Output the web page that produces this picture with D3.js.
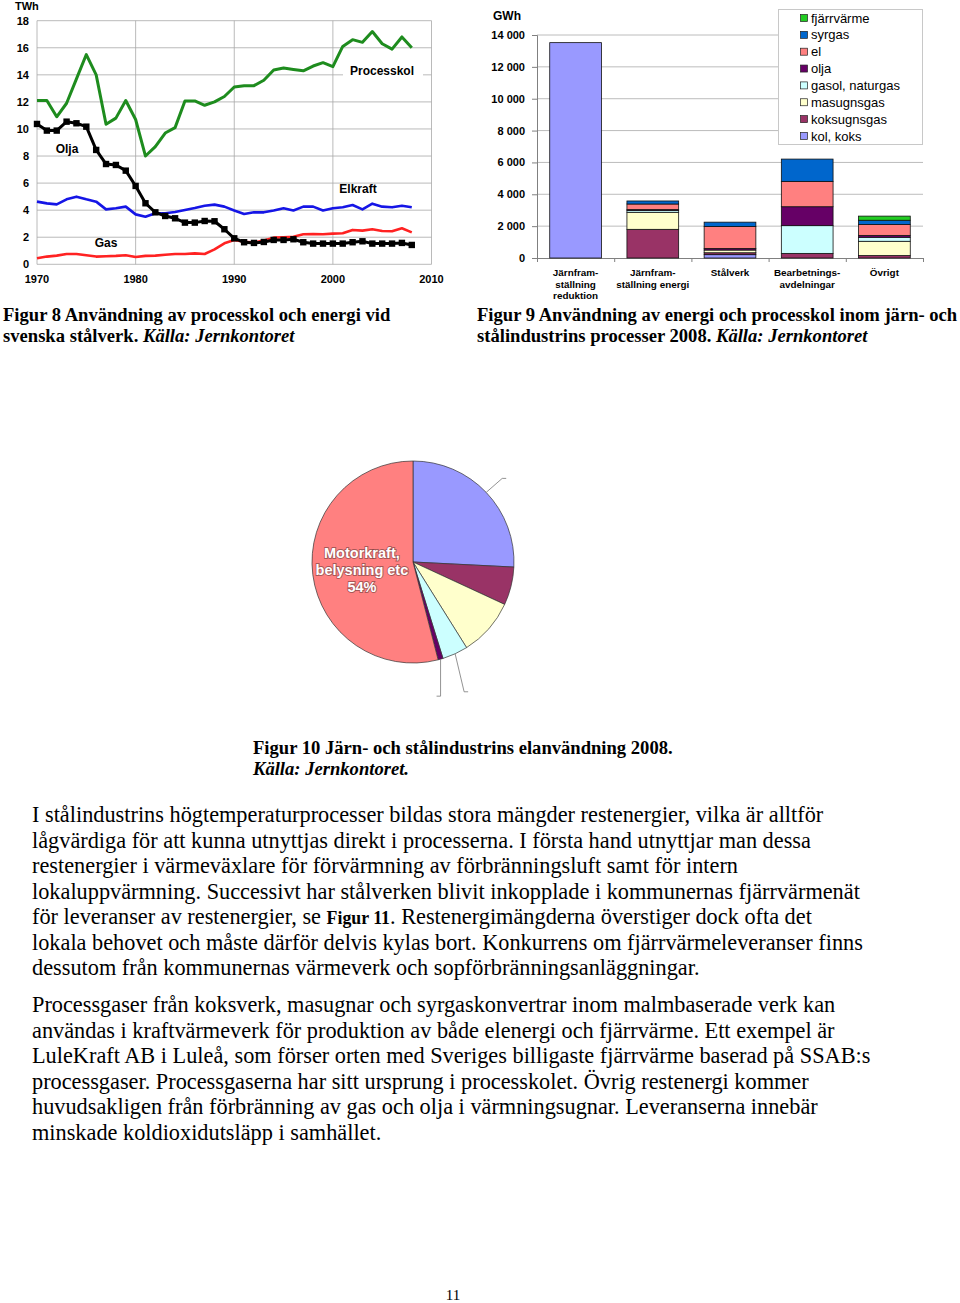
<!DOCTYPE html>
<html>
<head>
<meta charset="utf-8">
<script src="https://cdn.jsdelivr.net/npm/d3@7"></script>
<style>
  body { margin: 0; background: #fff; }
  svg { display: block; }
</style>
</head>
<body>
<svg id="page" width="960" height="1303"></svg>
<script>
// figur 8: linjer 1970-2008 (TWh)
const years = [1970, 1971, 1972, 1973, 1974, 1975, 1976, 1977, 1978, 1979,
  1980, 1981, 1982, 1983, 1984, 1985, 1986, 1987, 1988, 1989,
  1990, 1991, 1992, 1993, 1994, 1995, 1996, 1997, 1998, 1999,
  2000, 2001, 2002, 2003, 2004, 2005, 2006, 2007, 2008];
const processkol = [12.1, 12.1, 10.9, 11.9, 13.7, 15.5, 14.0, 10.35, 10.8, 12.1,
  10.7, 8.0, 8.7, 9.7, 10.1, 12.07, 12.07, 11.75, 12.0, 12.4,
  13.1, 13.2, 13.2, 13.6, 14.36, 14.5, 14.4, 14.3, 14.65, 14.9,
  14.6, 16.1, 16.6, 16.4, 17.2, 16.3, 15.9, 16.8, 16.0];
const olja = [10.37, 9.88, 9.88, 10.54, 10.42, 10.17, 8.45, 7.41, 7.34, 6.92,
  5.79, 4.51, 3.84, 3.57, 3.40, 3.08, 3.08, 3.2, 3.18, 2.59,
  1.92, 1.63, 1.58, 1.65, 1.8, 1.8, 1.85, 1.63, 1.53, 1.53,
  1.53, 1.53, 1.63, 1.7, 1.53, 1.53, 1.53, 1.58, 1.43];
const elkraft = [4.63, 4.5, 4.43, 4.8, 5.0, 4.8, 4.63, 4.06, 4.14, 4.26,
  3.69, 3.52, 3.77, 3.77, 3.87, 4.01, 4.16, 4.33, 4.41, 4.26,
  3.97, 3.72, 3.84, 3.84, 3.97, 4.14, 3.97, 4.26, 4.26, 3.97,
  4.14, 4.21, 4.38, 4.06, 4.48, 4.26, 4.21, 4.33, 4.21];
const gas = [0.44, 0.57, 0.64, 0.76, 0.76, 0.67, 0.57, 0.59, 0.62, 0.67,
  0.54, 0.62, 0.64, 0.71, 0.76, 0.76, 0.81, 0.76, 1.1, 1.55,
  1.8, 1.67, 1.6, 1.75, 1.97, 2.0, 2.04, 2.22, 2.24, 2.22,
  2.27, 2.29, 2.54, 2.49, 2.59, 2.46, 2.44, 2.66, 2.36];
const twhTicks = [0, 2, 4, 6, 8, 10, 12, 14, 16, 18];
const yearTicks = [1970, 1980, 1990, 2000, 2010];

// figur 9: staplar per process (GWh), ordnade nerifran och upp
const processes = [
  ["Järnfram-", "ställning", "reduktion"],
  ["Järnfram-", "ställning energi"],
  ["Stålverk"],
  ["Bearbetnings-", "avdelningar"],
  ["Övrigt"]
];
const carriers = ["kol, koks", "koksugnsgas", "masugnsgas", "gasol, naturgas", "olja", "el", "syrgas", "fjärrvärme"];
const kolKoks      = [13520, 0, 210, 0, 0];
const koksugnsgas  = [0, 1800, 120, 290, 150];
const masugnsgas   = [0, 1070, 170, 0, 900];
const gasolNaturgas = [0, 120, 0, 1740, 250];
const oljaGwh      = [0, 50, 100, 1190, 120];
const el           = [0, 350, 1380, 1590, 680];
const syrgas       = [0, 190, 270, 1400, 270];
const fjarrvarme   = [0, 0, 0, 0, 260];
const gwhTicks = [0, 2000, 4000, 6000, 8000, 10000, 12000, 14000];

// figur 10: elanvandning 2008 (%)
const elShares = [25.8, 6.1, 9.2, 4.1, 0.8, 54.0];

const carrierColors = ["#9999ff", "#993366", "#ffffcc", "#ccffff", "#660066", "#ff8080", "#0066cc", "#22cc22"];
const pieColors = ["#9999ff", "#993366", "#ffffcc", "#ccffff", "#660066", "#ff8080"];

const SANS = "'Liberation Sans', Arial, sans-serif";
const SERIF = "'Liberation Serif', 'Times New Roman', serif";

const svg = d3.select("#page");

drawFig8();
drawFig9();
drawFig10();
drawText();

function drawFig8() {
  const g = svg.append("g");
  const x = d3.scaleLinear().domain([1970, 2010]).range([37, 431.5]);
  const y = d3.scaleLinear().domain([0, 18]).range([264.3, 20.7]);

  // rutnat
  g.selectAll("line.h").data(twhTicks).join("line")
    .attr("x1", x(1970)).attr("x2", x(2010))
    .attr("y1", (d) => y(d)).attr("y2", (d) => y(d))
    .attr("stroke", "#a8a8a8").attr("stroke-width", 0.8);
  g.selectAll("line.v").data(yearTicks).join("line")
    .attr("y1", y(0)).attr("y2", y(18))
    .attr("x1", (d) => x(d)).attr("x2", (d) => x(d))
    .attr("stroke", "#a8a8a8").attr("stroke-width", 0.8);

  g.append("g").attr("transform", `translate(${x(1970) - 8},0)`)
    .selectAll("text").data(twhTicks).join("text")
    .attr("y", (d) => y(d) + 4)
    .attr("text-anchor", "end")
    .attr("font-family", SANS).attr("font-weight", 700).attr("font-size", 11)
    .text((d) => d);
  g.selectAll("text.xt").data(yearTicks).join("text")
    .attr("x", (d) => x(d)).attr("y", 283)
    .attr("text-anchor", "middle")
    .attr("font-family", SANS).attr("font-weight", 700).attr("font-size", 11)
    .text((d) => d);
  g.append("text").attr("x", 15).attr("y", 10)
    .attr("font-family", SANS).attr("font-weight", 700).attr("font-size", 11)
    .text("TWh");

  const line = (vals) => d3.line().x((_d, i) => x(years[i])).y((d) => y(d))(vals);
  const series = [
    { vals: gas, color: "#ff2222", w: 2.6 },
    { vals: elkraft, color: "#1515e6", w: 2.6 },
    { vals: processkol, color: "#1e8c1e", w: 3 },
    { vals: olja, color: "#000", w: 3 }
  ];
  g.selectAll("path.s").data(series).join("path")
    .attr("fill", "none")
    .attr("stroke", (d) => d.color)
    .attr("stroke-width", (d) => d.w)
    .attr("stroke-linejoin", "round")
    .attr("d", (d) => line(d.vals));
  g.selectAll("rect.m").data(olja).join("rect")
    .attr("x", (_d, i) => x(years[i]) - 3.2).attr("y", (d) => y(d) - 3.2)
    .attr("width", 6.4).attr("height", 6.4).attr("fill", "#000");

  // etiketter i diagrammet
  g.append("rect").attr("x", 343).attr("y", 62).attr("width", 80).attr("height", 18).attr("fill", "#fff");
  const labels = [["Processkol", 382, 75], ["Olja", 67, 153], ["Elkraft", 358, 193], ["Gas", 106, 247]];
  g.selectAll("text.lbl").data(labels).join("text")
    .attr("x", (d) => d[1]).attr("y", (d) => d[2])
    .attr("text-anchor", "middle")
    .attr("font-family", SANS).attr("font-weight", 700).attr("font-size", 12)
    .text((d) => d[0]);
}

function drawFig9() {
  const g = svg.append("g");
  const x = d3.scaleBand().domain(d3.range(processes.length)).range([537, 923]).paddingInner(0.33).paddingOuter(0.165);
  const y = d3.scaleLinear().domain([0, 14000]).range([258, 35]);
  const fmt = d3.formatLocale({ decimal: ",", thousands: " ", grouping: [3], currency: ["", ""] }).format(",");

  g.selectAll("line.h").data(gwhTicks.slice(1)).join("line")
    .attr("x1", 537).attr("x2", 923)
    .attr("y1", (d) => y(d)).attr("y2", (d) => y(d))
    .attr("stroke", "#b4b4b4").attr("stroke-width", 0.9);

  const yAxis = g.append("g").attr("transform", "translate(537,0)")
    .call(d3.axisLeft(y).tickValues(gwhTicks).tickFormat(fmt).tickSize(5).tickPadding(7));
  yAxis.selectAll("line,path").attr("stroke", "#808080");
  yAxis.selectAll("text").attr("font-family", SANS).attr("font-weight", 700).attr("font-size", 11).attr("fill", "#000");

  const xAxis = g.append("g").attr("transform", "translate(0,258)")
    .call(d3.axisBottom(d3.scaleLinear().domain([0, 5]).range([537, 923])).ticks(5).tickSize(4).tickFormat(""));
  xAxis.selectAll("line,path").attr("stroke", "#808080");

  const table = processes.map((_p, i) => ({
    i,
    "kol, koks": kolKoks[i], "koksugnsgas": koksugnsgas[i], "masugnsgas": masugnsgas[i],
    "gasol, naturgas": gasolNaturgas[i], "olja": oljaGwh[i], "el": el[i],
    "syrgas": syrgas[i], "fjärrvärme": fjarrvarme[i]
  }));
  const stacked = d3.stack().keys(carriers)(table);
  g.selectAll("g.layer").data(stacked).join("g")
    .attr("fill", (_d, k) => carrierColors[k])
    .selectAll("rect").data((d) => d.filter((s) => s[1] > s[0])).join("rect")
    .attr("x", (d) => x(d.data.i)).attr("width", x.bandwidth())
    .attr("y", (d) => y(d[1])).attr("height", (d) => y(d[0]) - y(d[1]))
    .attr("stroke", "#111").attr("stroke-width", 0.8);

  g.append("text").attr("x", 507).attr("y", 20).attr("text-anchor", "middle")
    .attr("font-family", SANS).attr("font-weight", 700).attr("font-size", 12).text("GWh");

  g.selectAll("text.cat").data(processes).join("text")
    .attr("text-anchor", "middle")
    .attr("font-family", SANS).attr("font-weight", 700).attr("font-size", 9.9)
    .each(function (lines, i) {
      d3.select(this).selectAll("tspan").data(lines).join("tspan")
        .attr("x", x(i) + x.bandwidth() / 2)
        .attr("y", (_d, j) => 276 + j * 11.5)
        .text((d) => d);
    });

  // legend, ordnad uppifran
  const lg = g.append("g");
  lg.append("rect").attr("x", 778.5).attr("y", 9.5).attr("width", 144).attr("height", 135)
    .attr("fill", "#fff").attr("stroke", "#c8c8c8");
  const order = carriers.map((c, k) => ({ c, k })).reverse();
  const row = lg.selectAll("g.row").data(order).join("g")
    .attr("transform", (_d, j) => `translate(800,${18 + j * 16.85})`);
  row.append("rect").attr("x", 0.5).attr("y", -3.5).attr("width", 7).attr("height", 7)
    .attr("fill", (d) => carrierColors[d.k]).attr("stroke", "#222").attr("stroke-width", 0.7);
  row.append("text").attr("x", 11).attr("y", 4.6)
    .attr("font-family", SANS).attr("font-size", 13).text((d) => d.c);
}

function drawFig10() {
  const cx = 413, cy = 562, r = 101;
  const g = svg.append("g").attr("transform", `translate(${cx},${cy})`);
  const arcs = d3.pie().sort(null)(elShares);
  const arc = d3.arc().innerRadius(0).outerRadius(r);
  g.selectAll("path").data(arcs).join("path")
    .attr("d", arc)
    .attr("fill", (_d, i) => pieColors[i])
    .attr("stroke", "#333").attr("stroke-width", 0.7);

  // ledarlinjer (etiketterna saknas i originalet)
  const leaders = [
    { i: 0, dx: 16, dy: -14, tail: 4 },
    { i: 3, dx: 9, dy: 38, tail: 4 },
    { i: 4, dx: 0, dy: 37, tail: -4 }
  ];
  const pt = (a, rr) => [Math.sin(a) * rr, -Math.cos(a) * rr];
  g.selectAll("path.leader").data(leaders).join("path")
    .attr("fill", "none").attr("stroke", "#777").attr("stroke-width", 0.8)
    .attr("d", (d) => {
      const a = (arcs[d.i].startAngle + arcs[d.i].endAngle) / 2;
      const [x0, y0] = pt(a, r);
      return `M${x0},${y0}L${x0 + d.dx},${y0 + d.dy}l${d.tail},0`;
    });

  const red = arcs[5];
  const [lx, ly] = pt((red.startAngle + red.endAngle) / 2, r * 0.56);
  g.append("text")
    .attr("text-anchor", "middle")
    .attr("font-family", SANS).attr("font-weight", 700).attr("font-size", 14.5)
    .attr("fill", "#fff").attr("stroke", "rgba(110,60,60,0.6)").attr("stroke-width", 1.8)
    .attr("paint-order", "stroke")
    .selectAll("tspan").data(["Motorkraft,", "belysning etc", `${Math.round(elShares[5])}%`]).join("tspan")
    .attr("x", lx + 5).attr("y", (_d, j) => ly - 11 + j * 17)
    .text((d) => d);
}

function drawText() {
  const g = svg.append("g").attr("font-family", SERIF);
  const cap = (x, y, plain, italic) => {
    const t = g.append("text").attr("x", x).attr("y", y).attr("font-size", 18.6).attr("font-weight", 700);
    t.append("tspan").text(plain);
    if (italic) t.append("tspan").attr("font-style", "italic").text(italic);
  };
  cap(3, 321, "Figur 8 Användning av processkol och energi vid");
  cap(3, 342, "svenska stålverk. ", "Källa: Jernkontoret");
  cap(477, 321, "Figur 9 Användning av energi och processkol inom järn- och");
  cap(477, 342, "stålindustrins processer 2008.  ", "Källa: Jernkontoret");
  cap(253, 754, "Figur 10 Järn- och stålindustrins elanvändning 2008.");
  cap(253, 775, "", "Källa: Jernkontoret.");

  const p1 = [
    "I stålindustrins högtemperaturprocesser bildas stora mängder restenergier, vilka är alltför",
    "lågvärdiga för att kunna utnyttjas direkt i processerna. I första hand utnyttjar man dessa",
    "restenergier i värmeväxlare för förvärmning av förbränningsluft samt för intern",
    "lokaluppvärmning. Successivt har stålverken blivit inkopplade i kommunernas fjärrvärmenät",
    ["för leveranser av restenergier, se ", "Figur 11", ". Restenergimängderna överstiger dock ofta det"],
    "lokala behovet och måste därför delvis kylas bort. Konkurrens om fjärrvärmeleveranser finns",
    "dessutom från kommunernas värmeverk och sopförbränningsanläggningar."
  ];
  const p2 = [
    "Processgaser från koksverk, masugnar och syrgaskonvertrar inom malmbaserade verk kan",
    "användas i kraftvärmeverk för produktion av både elenergi och fjärrvärme. Ett exempel är",
    "LuleKraft AB i Luleå, som förser orten med Sveriges billigaste fjärrvärme baserad på SSAB:s",
    "processgaser. Processgaserna har sitt ursprung i processkolet. Övrig restenergi kommer",
    "huvudsakligen från förbränning av gas och olja i värmningsugnar. Leveranserna innebär",
    "minskade koldioxidutsläpp i samhället."
  ];
  const para = (lines, y0) => {
    lines.forEach((ln, j) => {
      const t = g.append("text").attr("x", 32).attr("y", y0 + j * 25.5).attr("font-size", 22.3);
      if (typeof ln === "string") {
        t.text(ln);
      } else {
        t.append("tspan").text(ln[0]);
        t.append("tspan").attr("font-weight", 700).attr("font-size", 17.8).text(ln[1]);
        t.append("tspan").text(ln[2]);
      }
    });
  };
  para(p1, 822);
  para(p2, 1012);

  g.append("text").attr("x", 453).attr("y", 1295).attr("text-anchor", "middle")
    .attr("dominant-baseline", "central").attr("font-size", 15).text("11");
}
</script>
</body>
</html>
